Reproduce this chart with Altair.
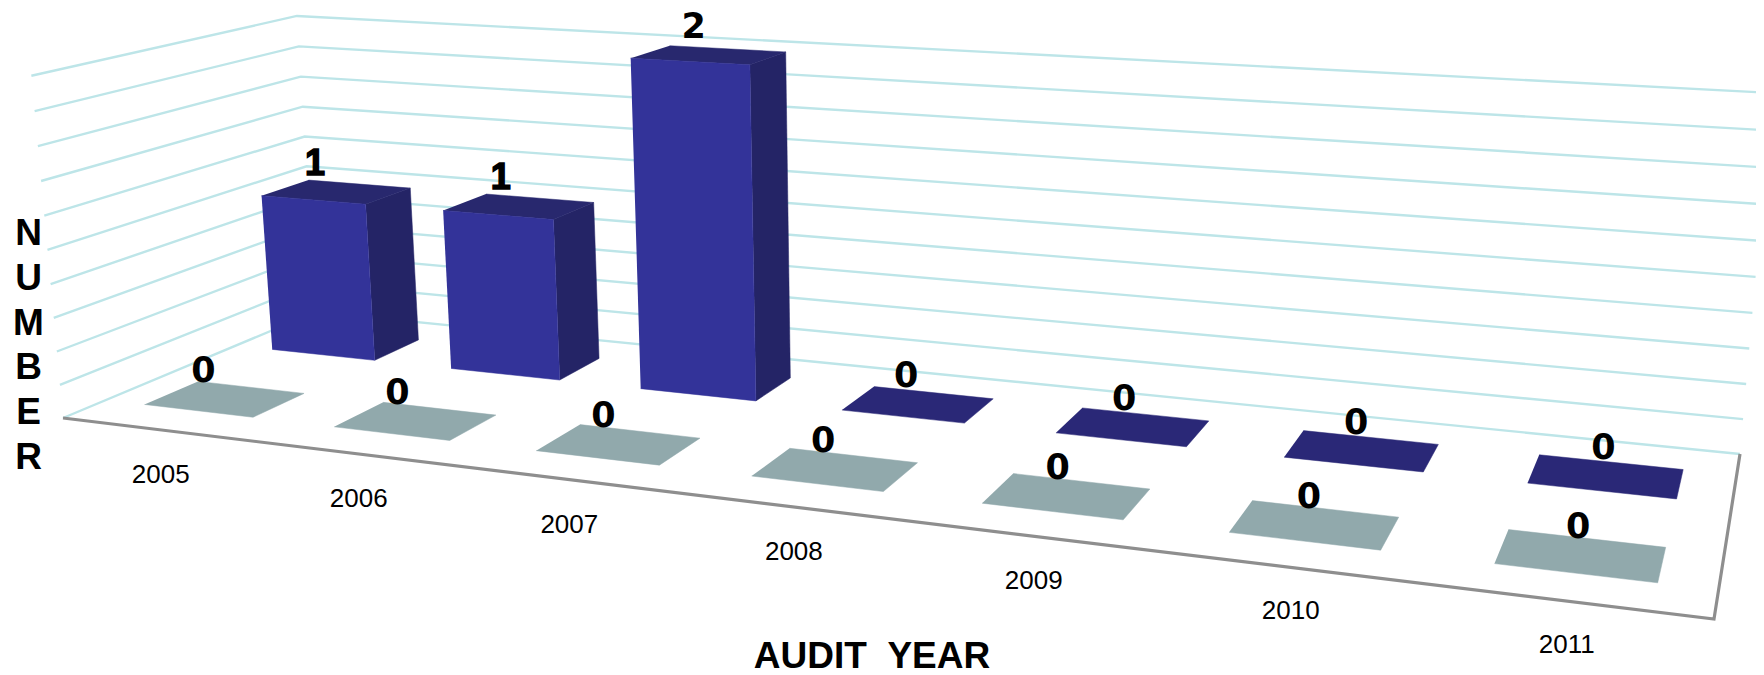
import numpy as np
import pandas as pd
import altair as alt

years = ["2005", "2006", "2007", "2008", "2009", "2010", "2011"]
back_series = [1, 1, 2, 0, 0, 0, 0]
front_series = [0, 0, 0, 0, 0, 0, 0]
axis_max = 2
grid_step = 0.2

# camera calibration
floor_corners = [((0, 0), (63, 418)), ((0, 1), (316, 312)), ((1, 1), (1740, 454)), ((1, 0), (1714, 619))]
top_corners = [((0, 0), (33.7, 75)), ((0, 1), (294.7, 13.3)), ((1, 1), (1772, 97))]
slot_gap = 0.21
front_row = (0.15, 0.35)
back_row = (0.65, 0.85)

A, b = [], []
for (u, v), (x, y) in floor_corners:
    A.append([u, v, 1, 0, 0, 0, -u * x, -v * x]); b.append(x)
    A.append([0, 0, 0, u, v, 1, -u * y, -v * y]); b.append(y)
s = np.linalg.solve(np.array(A, float), np.array(b, float))
H = np.array([[s[0], s[1], s[2]], [s[3], s[4], s[5]], [s[6], s[7], 1.0]])
A, b = [], []
for (u, v), (x, y) in top_corners:
    w = H[2] @ [u, v, 1]
    A.append([1, 0, -x]); b.append(x * w - H[0] @ [u, v, 1])
    A.append([0, 1, -y]); b.append(y * w - H[1] @ [u, v, 1])
C = np.linalg.lstsq(np.array(A, float), np.array(b, float), rcond=None)[0]


def project(u, v, val):
    h = val / axis_max
    p = H @ [u, v, 1] + C * h
    return p[0] / p[2], p[1] / p[2]


def poly_rows(group, corners):
    rows = []
    for k, c in enumerate(corners):
        x, y = project(*c)
        rows.append({"id": group, "ord": k, "x": x, "y": y})
    return rows


front_faces, side_faces, top_faces, pads_back, pads_front, labels, cat_labels = [], [], [], [], [], [], []
n = len(years)
for i, yr in enumerate(years):
    u0, u1 = (i + slot_gap) / n, (i + 1 - slot_gap) / n
    uc = (u0 + u1) / 2
    for series, (v0, v1), pads, tag in [(back_series, back_row, pads_back, "b"), (front_series, front_row, pads_front, "f")]:
        val = series[i]
        top = [(u0, v0, val), (u1, v0, val), (u1, v1, val), (u0, v1, val)]
        gid = f"{tag}{yr}"
        if val > 0:
            top_faces += poly_rows(gid, top)
            front_faces += poly_rows(gid, [(u0, v0, 0), (u1, v0, 0), (u1, v0, val), (u0, v0, val)])
            side_faces += poly_rows(gid, [(u1, v0, 0), (u1, v1, 0), (u1, v1, val), (u1, v0, val)])
        else:
            pads += poly_rows(gid, top)
        cx, cy = project(uc, (v0 + v1) / 2, val)
        labels.append({"x": cx - 23 + 22 * uc, "y": cy - 28, "t": str(val)})
    fx, fy = project(uc, front_row[0], 0)
    cat_labels.append({"x": fx - 40 + 34 * uc, "y": fy + 64 + 8 * uc, "t": yr})

grid_rows = []
for g in range(int(round(axis_max / grid_step)) + 1):
    val = g * grid_step
    for k, (u, v) in enumerate([(0, 0), (0, 1), (1, 1)]):
        x, y = project(u, v, val)
        grid_rows.append({"id": g, "ord": k, "x": x, "y": y})

edge_rows = []
for k, (u, v) in enumerate([(0, 0), (1, 0), (1, 1)]):
    x, y = project(u, v, 0)
    edge_rows.append({"id": 0, "ord": k, "x": x, "y": y})

xs = alt.Scale(domain=[8, 1756], range=[0, 1748])
ys = alt.Scale(domain=[8, 675], range=[0, 667])
X = alt.X("x:Q", scale=xs, axis=None)
Y = alt.Y("y:Q", scale=ys, axis=None)


def lines(rows, color, width):
    return alt.Chart(pd.DataFrame(rows)).mark_line(color=color, strokeWidth=width, clip=True).encode(
        x=X, y=Y, detail="id:N", order="ord:Q")


def polys(rows, color):
    return alt.Chart(pd.DataFrame(rows)).mark_line(fill=color, stroke=color, strokeWidth=0.5, clip=True).encode(
        x=X, y=Y, detail="id:N", order="ord:Q")


def text(rows, size, weight="normal", font="Liberation Sans", **kw):
    return alt.Chart(pd.DataFrame(rows)).mark_text(
        font=font, fontSize=size, fontWeight=weight, color="black", **kw
    ).encode(x=X, y=Y, text="t:N")


word = "NUMBER"
axis_letters = [{"x": 28.5, "y": 234 + 44.8 * k, "t": c} for k, c in enumerate(word)]
x_title = [{"x": 872, "y": 657, "t": "AUDIT\u00a0\u00a0YEAR"}]
labels_one = [r for r in labels if r["t"] == "1"]
labels_other = [r for r in labels if r["t"] != "1"]

chart = alt.layer(
    lines(grid_rows, "#bde5e8", 2.4),
    lines(edge_rows, "#8e8e8e", 3.2),
    polys(side_faces, "#242466"),
    polys(top_faces, "#28286e"),
    polys(front_faces, "#333399"),
    polys(pads_back, "#2a2877"),
    polys(pads_front, "#91a9ac"),
    text(labels_other, 35, "bold", font="DejaVu Sans"),
    text(labels_one, 36, "bold", stroke="black", strokeWidth=1.5),
    text(cat_labels, 26),
    text(axis_letters, 37, "bold"),
    text(x_title, 37, "bold"),
).properties(width=1748, height=667, padding=0, autosize="none").configure_view(stroke=None)

chart.save("out.html", embed_options={"renderer": "svg", "actions": False})
